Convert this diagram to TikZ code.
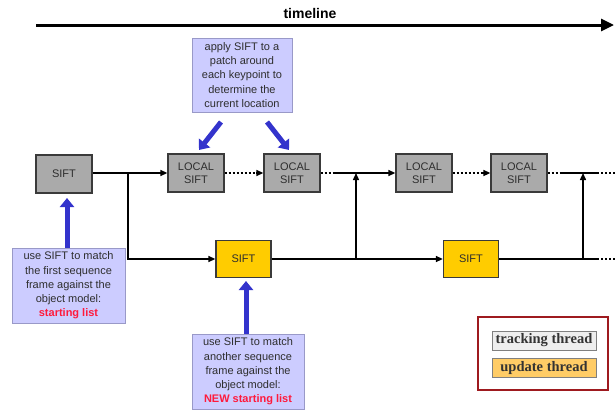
\documentclass[tikz,border=0pt]{standalone}
\usepackage{fontspec}
\setmainfont{Liberation Serif}
\setsansfont{Liberation Sans}
\usetikzlibrary{arrows.meta}
\definecolor{graybox}{HTML}{AAAAAA}
\definecolor{grayedge}{HTML}{3A3A3A}
\definecolor{yelbox}{HTML}{FFCC00}
\definecolor{lavbox}{HTML}{CCCCFF}
\definecolor{lavedge}{HTML}{9999C8}
\definecolor{bluearr}{HTML}{3333CC}
\definecolor{redtxt}{HTML}{FF1A3C}
\definecolor{txtgray}{HTML}{2E2E2E}
\definecolor{legred}{HTML}{9E1A1F}
\definecolor{legtrack}{HTML}{EEEEEE}
\definecolor{legupd}{HTML}{FFCC66}
\tikzset{
  sbox/.style={draw=grayedge, line width=1.3pt, minimum width=56pt, minimum height=38pt,
    inner sep=0pt, align=center, font=\sffamily\fontsize{11}{13.5}\selectfont, text=txtgray},
  trackbox/.style={sbox, fill=graybox},
  updbox/.style={sbox, fill=yelbox, minimum width=55pt, minimum height=37pt},
  notebox/.style={draw=lavedge, line width=0.8pt, fill=lavbox, inner sep=0pt, align=center,
    font=\sffamily\fontsize{11}{14.3}\selectfont, text=txtgray},
  flow/.style={line width=1.4pt, -{Triangle[length=7pt,width=6pt]}},
  plain/.style={line width=1.4pt},
  dots/.style={line width=1.4pt, dash pattern=on 2pt off 2pt},
  bigarrow/.style={bluearr, line width=5pt, -{Triangle[length=9pt,width=14pt]}},
  legbox/.style={draw=gray, line width=0.6pt, minimum width=104pt, minimum height=19pt,
    inner sep=0pt, font=\bfseries\fontsize{14.5}{16}\selectfont, text=black!80},
}
\begin{document}
\begin{tikzpicture}[x=1pt,y=-1pt]
\useasboundingbox (0,0) rectangle (615,410);
% timeline
\coordinate (t0) at (36,25);
\coordinate (t1) at (614,25);
\draw[line width=3pt, -{Triangle[length=13pt,width=12pt]}] (t0) -- (t1);
\node[font=\sffamily\bfseries\fontsize{14}{16}\selectfont] (tl) at (310,13) {timeline};

% tracking thread boxes
\node[trackbox] (s0) at (64,174) {SIFT};
\node[trackbox] (l1) at (196,173) {LOCAL\\SIFT};
\node[trackbox] (l2) at (292,173) {LOCAL\\SIFT};
\node[trackbox] (l3) at (424,173) {LOCAL\\SIFT};
\node[trackbox] (l4) at (519,173) {LOCAL\\SIFT};
% update thread boxes
\node[updbox] (u1) at (243.5,259) {SIFT};
\node[updbox] (u2) at (471,259) {SIFT};

% notes
\node[notebox, minimum width=100pt, minimum height=74pt] (n1) at (242,75)
  {apply SIFT to a\\patch around\\each keypoint to\\determine the\\current location};
\node[notebox, minimum width=113pt, minimum height=75pt] (n2) at (68.5,285.5)
  {use SIFT to match\\the first sequence\\frame against the\\object model:\\{\color{redtxt}\bfseries starting list}};
\node[notebox, minimum width=112pt, minimum height=75pt] (n3) at (248,371.5)
  {use SIFT to match\\another sequence\\frame against the\\object model:\\{\color{redtxt}\bfseries NEW starting list}};

% coordinates
\coordinate (b1) at (128,173);
\coordinate (d1) at (256,173);
\coordinate (d2) at (334,173);
\coordinate (j1) at (356,173);
\coordinate (j1b) at (356,259);
\coordinate (d3) at (481,173);
\coordinate (d4) at (560,173);
\coordinate (e4) at (597,173);
\coordinate (f4) at (615,173);
\coordinate (j2) at (583,173);
\coordinate (j2b) at (583,259);
\coordinate (e5) at (597,259);
\coordinate (f5) at (615,259);

% connectors
\draw[flow] (s0.east |- b1) -- (l1.west);
\draw[flow] (b1) |- (u1.west);
\draw[dots] (l1.east) -- (d1);
\draw[flow] (d1) -- (l2.west);
\draw[dots] (l2.east) -- (d2);
\draw[flow] (d2) -- (l3.west);
\draw[flow] (u1.east) -- (u2.west);
\draw[flow] (j1b) -- (j1);
\draw[dots] (l3.east) -- (d3);
\draw[flow] (d3) -- (l4.west);
\draw[dots] (l4.east) -- (d4);
\draw[plain] (d4) -- (e4);
\draw[dots] (e4) -- (f4);
\draw[plain] (u2.east) -- (e5);
\draw[dots] (e5) -- (f5);
\draw[flow] (j2b) -- (j2);

% blue arrows
\coordinate (a1s) at (221,122); \coordinate (a1e) at (199,150);
\coordinate (a2s) at (267,122); \coordinate (a2e) at (289,150);
\coordinate (a3s) at (67,248); \coordinate (a3e) at (67,198);
\coordinate (a4s) at (246,334); \coordinate (a4e) at (246,281);
\draw[bigarrow] (a1s) -- (a1e);
\draw[bigarrow] (a2s) -- (a2e);
\draw[bigarrow] (a3s) -- (a3e);
\draw[bigarrow] (a4s) -- (a4e);

% legend
\node[draw=legred, line width=2.5pt, minimum width=130pt, minimum height=73pt] (leg) at (543,353.5) {};
\node[legbox, fill=legtrack] (lt) at (544,340.5) {tracking thread};
\node[legbox, fill=legupd] (lu) at (544,368) {update thread};
\end{tikzpicture}
\end{document}
